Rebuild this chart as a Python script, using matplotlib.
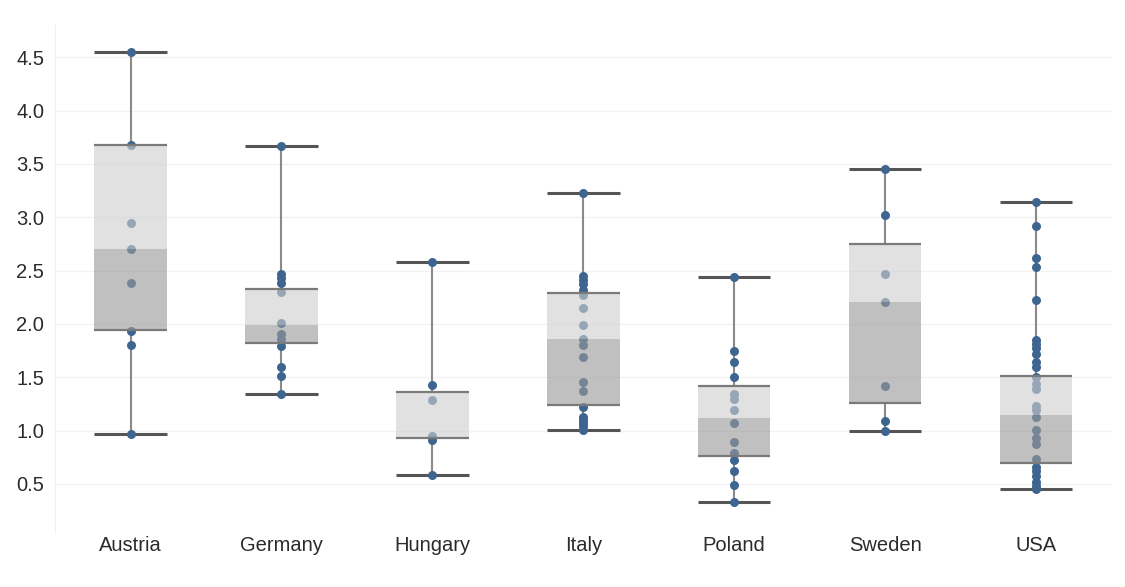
import matplotlib
matplotlib.use('Agg')
import matplotlib.pyplot as plt
import numpy as np

plt.rcParams['font.family'] = ['Liberation Sans', 'DejaVu Sans']

# страны
countries = ['Austria', 'Germany', 'Hungary', 'Italy', 'Poland', 'Sweden', 'USA']

# отдельные наблюдения по странам
austria = [4.55, 3.68, 2.95, 2.70, 2.38, 1.93, 1.80, 0.97]
germany = [3.67, 2.47, 2.43, 2.38, 2.30, 2.01, 1.91, 1.86, 1.79, 1.60, 1.51, 1.34]
hungary = [2.58, 1.43, 1.29, 0.95, 0.91, 0.58]
italy = [3.23, 2.45, 2.41, 2.37, 2.32, 2.27, 2.15, 1.99, 1.86, 1.80, 1.69, 1.46, 1.37,
         1.22, 1.13, 1.10, 1.07, 1.04, 1.01]
poland = [2.44, 1.75, 1.64, 1.50, 1.34, 1.30, 1.19, 1.07, 0.89, 0.79, 0.72, 0.62, 0.49, 0.33]
sweden = [3.45, 3.02, 2.47, 2.21, 1.42, 1.09, 1.00]
usa = [3.14, 2.92, 2.62, 2.53, 2.22, 1.85, 1.81, 1.77, 1.72, 1.64, 1.60, 1.50, 1.44, 1.39,
       1.23, 1.19, 1.13, 1.01, 0.93, 0.87, 0.73, 0.66, 0.62, 0.57, 0.52, 0.48, 0.45]
points = [austria, germany, hungary, italy, poland, sweden, usa]

# статистика коробок
whis_lo = [0.97, 1.34, 0.58, 1.01, 0.33, 1.00, 0.45]
q1 = [1.94, 1.82, 0.93, 1.24, 0.76, 1.26, 0.70]
median = [2.70, 1.99, 0.93, 1.86, 1.12, 2.21, 1.15]
q3 = [3.68, 2.33, 1.36, 2.29, 1.42, 2.75, 1.51]
whis_hi = [4.55, 3.67, 2.58, 3.23, 2.44, 3.45, 3.14]

yticks = [0.5, 1.0, 1.5, 2.0, 2.5, 3.0, 3.5, 4.0, 4.5]

fig = plt.figure(figsize=(11.25, 5.87), dpi=100)
ax = fig.add_axes([0.049, 0.092, 0.939, 0.865])

pos = np.arange(len(countries))
w = 0.48
dot_c = '#3d6590'

# усы
ax.vlines(pos, whis_lo, q1, color='#8a8a8a', lw=1.5, zorder=1)
ax.vlines(pos, q3, whis_hi, color='#8a8a8a', lw=1.5, zorder=1)
ax.hlines(whis_lo, pos - w / 2, pos + w / 2, color='#555555', lw=2.2, zorder=1.5)
ax.hlines(whis_hi, pos - w / 2, pos + w / 2, color='#555555', lw=2.2, zorder=1.5)

# точки
for i, vals in enumerate(points):
    ax.scatter(np.full(len(vals), pos[i]), vals, s=42, color=dot_c, zorder=2, linewidths=0)

# коробки: нижняя половина темнее, верхняя светлее
ax.bar(pos, np.array(median) - np.array(q1), bottom=q1, width=w, color='#9a9a9a',
       alpha=0.62, zorder=3, linewidth=0)
ax.bar(pos, np.array(q3) - np.array(median), bottom=median, width=w, color='#cfcfcf',
       alpha=0.62, zorder=3, linewidth=0)
ax.hlines(q1, pos - w / 2, pos + w / 2, color='#7a7a7a', lw=1.6, zorder=4)
ax.hlines(q3, pos - w / 2, pos + w / 2, color='#7a7a7a', lw=1.6, zorder=4)

ax.set_xlim(-0.5, 6.5)
ax.set_ylim(0.04, 4.80)
ax.set_xticks(pos)
ax.set_xticklabels(countries)
ax.set_yticks(yticks)
ax.set_yticklabels([f'{v:.1f}' for v in yticks])
ax.tick_params(axis='both', length=0, labelsize=14.5, colors='#2b2b2b')
ax.tick_params(axis='x', pad=2)
ax.tick_params(axis='y', pad=8)
ax.grid(axis='y', color='#f2f2f2', lw=1)
ax.set_axisbelow(True)
for s in ['top', 'right', 'bottom']:
    ax.spines[s].set_visible(False)
ax.spines['left'].set_color('#f0f0f0')

fig.savefig('out.png', dpi=100)
